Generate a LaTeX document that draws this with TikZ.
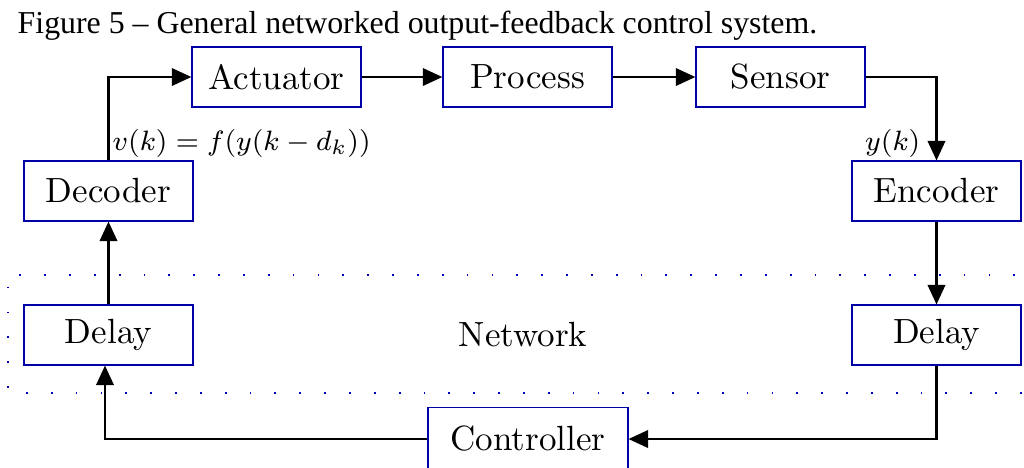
\documentclass[tikz,border=0pt]{standalone}
\usepackage{fontspec}
\newfontfamily\capfont{Liberation Serif}
\usetikzlibrary{arrows.meta}
\begin{document}
\begin{tikzpicture}[x=0.2857pt,y=-0.2857pt,
  blk/.style={draw=blue!65!black,line width=0.35pt,minimum width=48.3pt,minimum height=17.1pt,inner sep=0pt,font=\fontsize{10}{12}\selectfont},
  conn/.style={line width=0.65pt,-{Triangle[length=5.6pt,width=5pt]}},
  netbox/.style={draw=blue!75!black,line width=0.65pt,dash pattern=on 0.5pt off 6.6pt}]
\useasboundingbox (0,0) rectangle (1024,467);
\node[anchor=base west,inner sep=0pt,font=\capfont\fontsize{9.1}{11}\selectfont] (cap) at (17,33) {Figure 5 – General networked output-feedback control system.};
\draw[netbox] (1040,275) -- (8,275) -- (8,393) -- (1040,393);
\node[blk] (act) at (276.5,77) {Actuator};
\node[blk] (proc) at (527.5,77) {Process};
\node[blk] (sens) at (780.5,77) {Sensor};
\node[blk] (dec) at (108.5,191) {Decoder};
\node[blk] (enc) at (936.5,191) {Encoder};
\node[blk] (dl) at (108.5,335) {Delay};
\node[blk] (dr) at (936.5,335) {Delay};
\node[blk,minimum width=57.1pt,minimum height=18pt] (ctrl) at (528,439) {Controller};
\node[font=\fontsize{10}{12}\selectfont,inner sep=0pt] (net) at (523,335) {Network};
\coordinate (c1) at (108.5,77);
\coordinate (c2) at (936.5,77);
\coordinate (c3) at (936.5,439);
\coordinate (c4) at (105,439);
\draw[conn] (dec.north) -- (c1) -- (act.west);
\draw[conn] (act) -- (proc);
\draw[conn] (proc) -- (sens);
\draw[conn] (sens.east) -- (c2) -- (enc.north);
\draw[conn] (enc) -- (dr);
\draw[conn] (dr.south) -- (c3) -- (ctrl.east);
\draw[conn] (ctrl.west) -- (c4) -- (c4 |- dl.south);
\draw[conn] (dl) -- (dec);
\node[anchor=base west,inner sep=0pt,font=\fontsize{8.5}{10}\selectfont] (vlab) at (112,150) {$v(k)=f(y(k-d_k))$};
\node[anchor=base east,inner sep=0pt,font=\fontsize{8.5}{10}\selectfont] (ylab) at (921,150) {$y(k)$};
\end{tikzpicture}
\end{document}
